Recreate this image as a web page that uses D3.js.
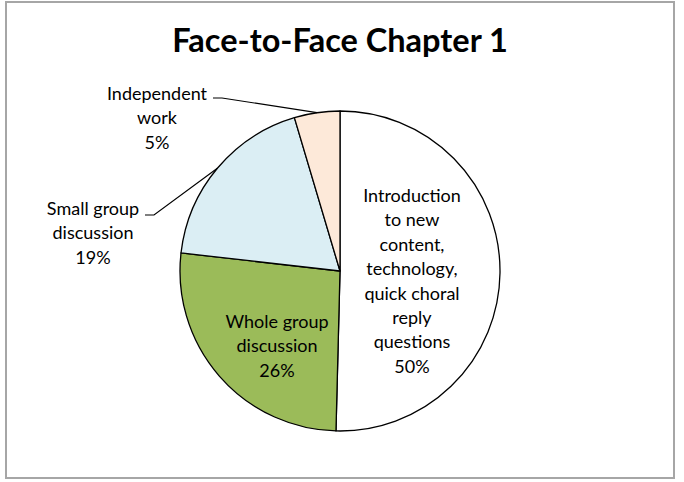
<!DOCTYPE html>
<html lang="en">
<head>
    <meta charset="UTF-8">
    <title>Face-to-Face Chapter 1</title>
    <script src="https://d3js.org/d3.v7.min.js"></script>
    <style>
        body { margin: 0; background: #fff; }
        text { font-family: Lato, "Open Sans", sans-serif; fill: #000; }
    </style>
</head>
<body>
<script>
    // slices, clockwise from 12 o'clock
    const categories = ["Introduction to new content, technology, quick choral reply questions",
        "Whole group discussion", "Small group discussion", "Independent work"]
    const values = [50.4, 26.4, 18.6, 4.6]
    const percentLabels = ["50%", "26%", "19%", "5%"]
    const labelLines = [
        ["Introduction", "to new", "content,", "technology,", "quick choral", "reply", "questions"],
        ["Whole group", "discussion"],
        ["Small group", "discussion"],
        ["Independent", "work"]
    ]
    const colors = ["#ffffff", "#9bbb59", "#dbeef4", "#fde9d9"]

    const width = 684
    const height = 482
    const cx = 340
    const cy = 271
    const radius = 160
    const lineHeight = 24.4

    const svg = d3.select("body")
        .append("svg")
        .attr("width", width)
        .attr("height", height)

    // outer frame
    svg.append("rect")
        .attr("x", 6)
        .attr("y", 2)
        .attr("width", 668)
        .attr("height", 476)
        .attr("fill", "white")
        .attr("stroke", "#a6a6a6")
        .attr("stroke-width", 2)

    svg.append("text")
        .attr("x", 340)
        .attr("y", 52)
        .attr("text-anchor", "middle")
        .style("font-size", "32.5px")
        .style("font-weight", "bold")
        .text("Face-to-Face Chapter 1")

    const pie = d3.pie().sort(null).value(d => d)
    const arcs = pie(values)
    const arc = d3.arc().innerRadius(0).outerRadius(radius)

    const chart = svg.append("g")
        .attr("transform", `translate(${cx}, ${cy})`)

    chart.selectAll("path")
        .data(arcs)
        .enter()
        .append("path")
        .attr("d", arc)
        .attr("fill", (d, i) => colors[i])
        .attr("stroke", "black")
        .attr("stroke-width", 1.3)
        .attr("stroke-linejoin", "round")

    // label positions (relative to pie centre), baseline of first line
    const labelPos = [
        { x: 72, y: -69 },
        { x: -63, y: 57 },
        { x: -247, y: -56 },
        { x: -183, y: -171 }
    ]
    const outerArc = d3.arc().innerRadius(radius).outerRadius(radius)

    // leader lines for the outside labels: start, elbow
    const leaders = [
        null,
        null,
        { x: -195, y: -56, elbow: -186 },
        { x: -127, y: -173, elbow: -118 }
    ]

    arcs.forEach((a, i) => {
        const lines = labelLines[i].concat([percentLabels[i]])
        const t = chart.append("text")
            .attr("text-anchor", "middle")
            .style("font-size", "18px")
        lines.forEach((l, j) => {
            t.append("tspan")
                .attr("x", labelPos[i].x)
                .attr("y", labelPos[i].y + j * lineHeight)
                .text(l)
        })
        const ld = leaders[i]
        if (ld) {
            const edge = outerArc.centroid(a)
            chart.append("polyline")
                .attr("points", [[ld.x, ld.y], [ld.elbow, ld.y], edge].map(p => p.join(",")).join(" "))
                .attr("fill", "none")
                .attr("stroke", "black")
                .attr("stroke-width", 1.2)
        }
    })
</script>
</body>
</html>
